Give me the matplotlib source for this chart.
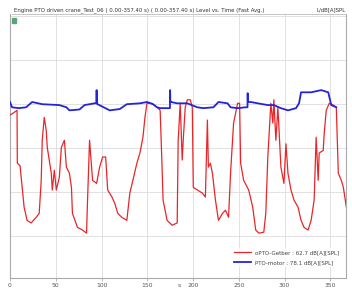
import numpy as np
import matplotlib
matplotlib.use("Agg")
import matplotlib.pyplot as plt
from matplotlib.patches import Rectangle

# level vs. time (s, dB(A))
red_t = [0, 7.7, 8.0, 11, 15.4, 18.7, 23.1, 28.6, 31.9, 34.1, 35.2, 37.4, 39.6, 40.7,
         45.1, 46.2, 48.4, 50.6, 53.9, 56.1, 59.4, 61.6, 64.9, 67.1, 68.2, 73.7, 79.2,
         83.6, 84.7, 86.9, 90.2, 94.6, 97.9, 101.2, 104.5, 106.7, 111.1, 114.4, 117.7,
         122.1, 127.6, 130.9, 134.2, 138.6, 141.9, 145.2, 147.4, 149.6, 155.1, 160.6,
         164.0, 166.1, 167.2, 171.6, 177.1, 182.6, 183.7, 185.9, 188.1, 189.2, 191.4,
         193.6, 196.9, 199.1, 200.2, 204.6, 210.1, 213.4, 215.6, 216.7, 218.9, 221.1,
         224.4, 227.7, 232.1, 235.4, 238.7, 240.9, 244.2, 248.6, 250.8, 251.9, 255.2,
         260.7, 265.1, 268.4, 271.7, 277.2, 279.4, 281.6, 284.9, 287.1, 288.2, 290.4,
         292.6, 293.7, 295.9, 299.2, 301.4, 303.6, 306.9, 310.2, 314.6, 317.9, 321.2,
         325.6, 328.9, 332.2, 334.4, 336.6, 337.7, 342.1, 343.2, 345.4, 348.7, 353.1,
         356.4, 358.6, 361.9, 364.1, 367.4]
red_db = [77.5, 78.6, 66.6, 66.0, 56.6, 53.6, 53.0, 54.3, 55.2, 62.7, 71.8, 77.0, 74.0, 70.2,
          64.3, 60.5, 65.0, 60.5, 63.4, 70.2, 71.8, 65.7, 64.3, 61.1, 55.2, 52.0, 51.4,
          50.7, 58.2, 71.8, 62.7, 62.0, 65.7, 68.0, 68.0, 60.5, 59.0, 57.5, 55.2,
          54.3, 53.6, 59.8, 62.7, 66.6, 68.9, 72.5, 77.0, 80.2, 80.2, 79.3,
          78.6, 65.7, 58.2, 53.6, 52.5, 53.0, 71.8, 80.2, 67.3, 71.8, 79.3,
          81.0, 81.0, 79.3, 61.1, 60.5, 59.8, 58.9, 76.4, 65.7, 66.6, 64.3,
          58.2, 53.6, 55.2, 55.9, 54.3, 64.3, 75.7, 80.2, 80.2, 66.6, 62.7,
          60.5, 56.6, 51.4, 50.7, 50.9, 55.2, 68.0, 80.2, 75.7, 81.0, 71.8,
          79.3, 74.8, 65.7, 62.0, 71.0, 64.3, 60.5, 58.2, 56.6, 53.6, 52.0,
          51.4, 53.6, 58.2, 72.5, 62.7, 68.9, 69.5, 73.4, 78.6, 80.2, 79.8,
          79.3, 64.3, 62.7, 61.1, 56.6]

blue_t = [0, 2.2, 9.9, 17.6, 24.2, 35.2, 53.9, 61.6, 64.9, 75.9, 81.4, 92.4, 94.4, 94.6,
          94.8, 95.7, 108.9, 119.9, 127.6, 141.9, 149.6, 156.2, 160.6, 163.9, 172.7,
          174.7, 174.9, 175.1, 176.0, 182.6, 193.6, 204.6, 211.2, 222.2, 227.7, 237.6,
          240.9, 248.6, 257.4, 259.4, 259.6, 259.8, 262.9, 270.6, 281.6, 288.2, 295.9,
          303.6, 312.4, 315.7, 317.9, 328.9, 339.9, 347.6, 350.9, 356.4]
blue_db = [80.5, 79.3, 79.1, 79.3, 80.5, 80.0, 79.8, 79.3, 78.6, 78.8, 79.8, 80.2, 80.2, 83.2,
           80.2, 80.0, 78.6, 78.9, 80.0, 80.2, 80.5, 80.0, 79.3, 79.1, 79.1,
           79.1, 83.2, 80.5, 80.5, 80.2, 80.2, 79.3, 79.1, 79.3, 80.5, 80.2,
           79.3, 79.1, 79.3, 79.3, 82.5, 80.5, 80.5, 80.2, 79.8, 79.8, 79.1,
           78.6, 79.1, 80.2, 82.7, 82.7, 83.2, 82.7, 79.8, 79.3]

labels = ["oPTO-Getber : 62.7 dB[A][SPL]", "PTO-motor : 78.1 dB[A][SPL]"]
xticks = [0, 50, 100, 150, 200, 250, 300, 350]

fig = plt.figure(figsize=(3.52, 2.92), dpi=100)
ax = fig.add_axes([10 / 352, 14 / 292, 336 / 352, 264 / 292])

ax.plot(red_t, red_db, color="#e8262a", lw=0.9, label=labels[0], zorder=3)
ax.plot(blue_t, blue_db, color="#2424d8", lw=1.3, label=labels[1], zorder=4)

ax.set_xlim(0, 367)
ax.set_ylim(40.5, 100.5)
ax.set_xticks(xticks)
ax.set_xticklabels([str(v) for v in xticks])
ax.set_yticks([50, 60, 70, 80, 90, 100])
ax.set_yticklabels([])
ax.tick_params(axis="both", length=2, width=0.5, colors="#999999", labelsize=4.3,
               labelcolor="#555555", pad=1.5)
ax.tick_params(axis="y", length=0)
ax.grid(True, color="#dcdcdc", lw=0.6)
ax.set_axisbelow(True)
for side in ["left", "bottom", "right"]:
    ax.spines[side].set_color("#aaaaaa")
    ax.spines[side].set_linewidth(0.8)
ax.spines["top"].set_visible(False)

# unit label next to the 200 tick, on the tick label line
ax.text(185, -0.033, "s", transform=ax.get_xaxis_transform(), ha="center",
        va="baseline", fontsize=4.3, color="#555555")

# title line over the plot
fig.text(14 / 352, 1 - 10 / 292,
         "Engine PTO driven crane_Test_06 ( 0.00-357.40 s) ( 0.00-357.40 s) Level vs. Time (Fast Avg.)",
         fontsize=3.9, color="#333333", va="center", ha="left")
fig.text(346 / 352, 1 - 10 / 292, "L/dB[A]SPL", fontsize=3.9, color="#333333",
         va="center", ha="right")
fig.add_artist(plt.Line2D([12 / 352, 346 / 352], [1 - 14 / 292, 1 - 14 / 292],
                          color="#bbbbbb", lw=0.6))

# small green marker in the corner
ax.add_patch(Rectangle((0.005, 0.965), 0.012, 0.018, transform=ax.transAxes,
                       color="#5aa57a", zorder=5, clip_on=False))

leg = ax.legend(loc="lower right", bbox_to_anchor=(0.99, 0.035), fontsize=4,
                frameon=True, handlelength=3.2, borderaxespad=0.3, labelspacing=0.8,
                handletextpad=0.6)
leg.get_frame().set_facecolor("white")
leg.get_frame().set_edgecolor("none")
for txt in leg.get_texts():
    txt.set_color("#444444")

fig.savefig("out.png", dpi=100)
